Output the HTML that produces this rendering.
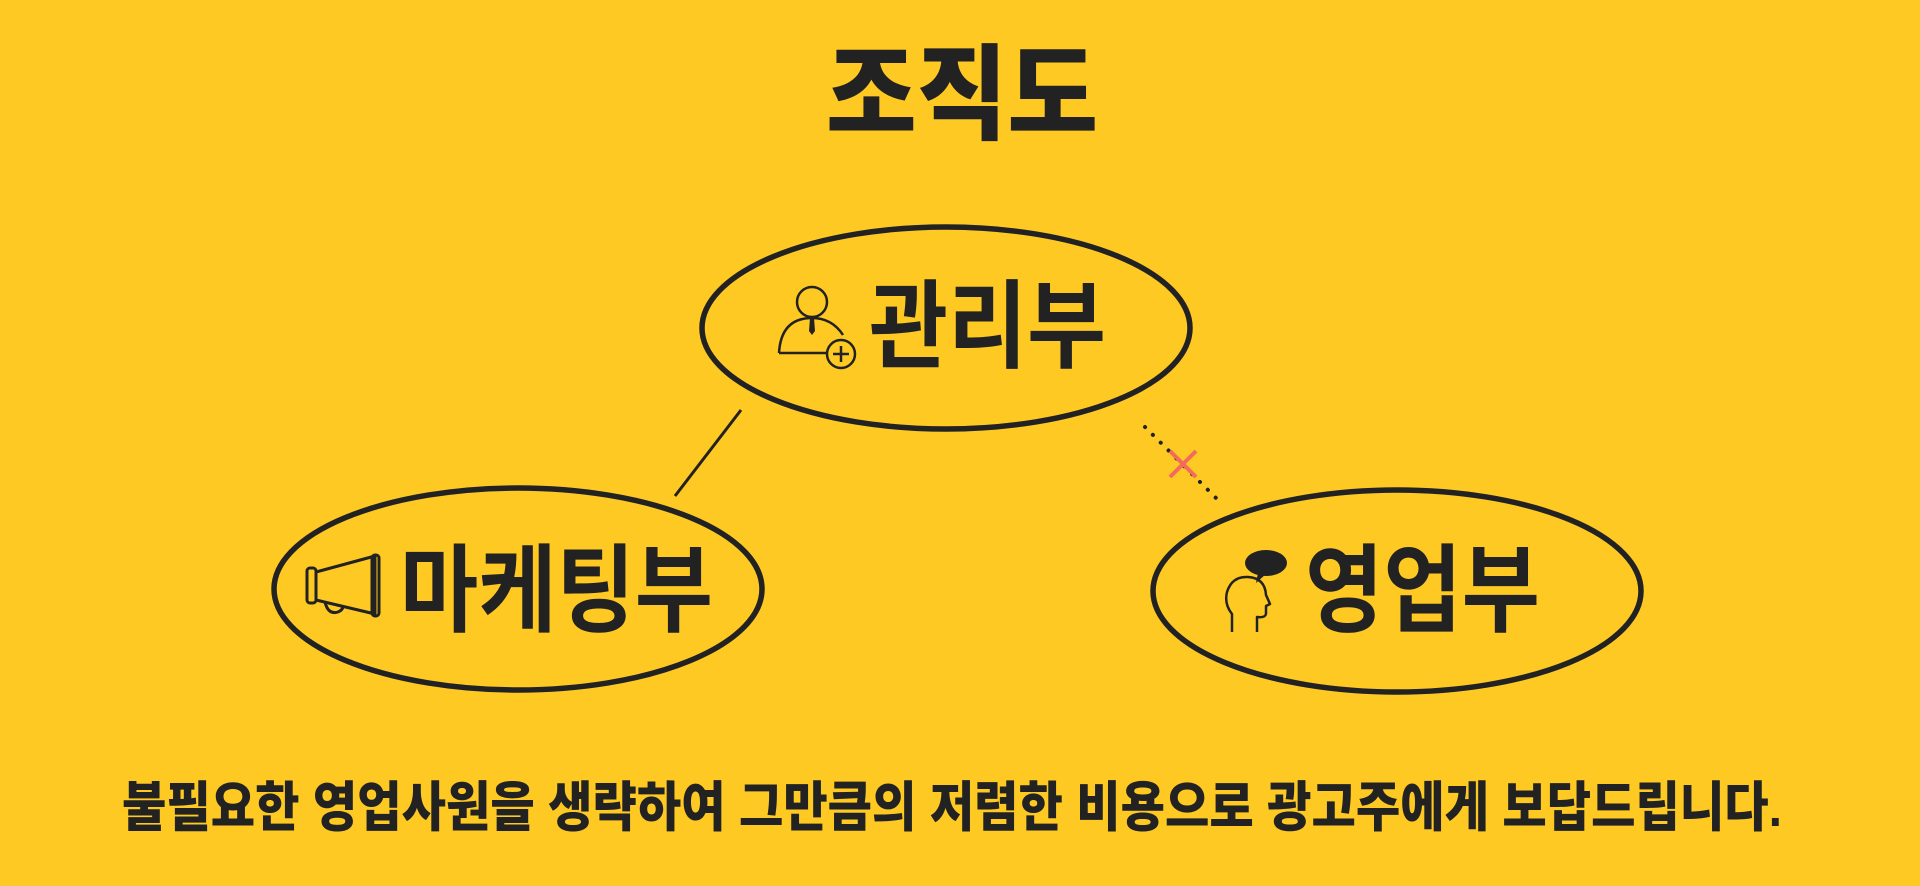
<!DOCTYPE html>
<html><head><meta charset="utf-8"><style>
html,body{margin:0;padding:0;background:#fec923;}
svg{display:block}
text{font-family:"Liberation Sans","Noto Sans CJK KR","NanumGothic",sans-serif;fill:#222;}
</style></head><body>
<svg width="1920" height="886" viewBox="0 0 1920 886" xmlns="http://www.w3.org/2000/svg">
<rect width="1920" height="886" fill="#fec923"/>
<text x="962" y="131" text-anchor="middle" font-size="104" font-weight="900" textLength="272" lengthAdjust="spacingAndGlyphs">조직도</text>

<g fill="none" stroke="#222" stroke-width="5.5">
<ellipse cx="946" cy="328" rx="244" ry="101"/>
<ellipse cx="518" cy="589" rx="244" ry="101"/>
<ellipse cx="1397" cy="591" rx="244" ry="101"/>
</g>
<line x1="741" y1="410" x2="675" y2="496" stroke="#222" stroke-width="3"/>
<line x1="1145" y1="427" x2="1221" y2="503" stroke="#222" stroke-width="4" stroke-dasharray="0.1 11" stroke-linecap="round"/>
<g stroke="#f26b5b" stroke-width="4"><line x1="1170" y1="451" x2="1196" y2="477"/><line x1="1196" y1="451" x2="1170" y2="477"/></g>

<text x="869" y="360" font-size="96" font-weight="700" textLength="237" lengthAdjust="spacingAndGlyphs">관리부</text>
<text x="400" y="624" font-size="96" font-weight="700" textLength="313" lengthAdjust="spacingAndGlyphs">마케팅부</text>
<text x="1305" y="624" font-size="96" font-weight="700" textLength="235" lengthAdjust="spacingAndGlyphs">영업부</text>

<!-- person icon -->
<g fill="none" stroke="#222" stroke-width="2.5">
<circle cx="812" cy="302" r="15"/>
<path d="M779 353 Q781 318 812 318 Q832 318 843 335"/>
<line x1="779" y1="353" x2="827" y2="353"/>
<circle cx="841" cy="354" r="14"/>
<line x1="841" y1="346" x2="841" y2="362"/><line x1="833" y1="354" x2="849" y2="354"/>
</g>
<path d="M810 318 L814 318 L815 331 L812 335 L809 331 Z" fill="#222"/>

<!-- megaphone -->
<g fill="none" stroke="#222" stroke-width="3" stroke-linejoin="round">
<rect x="307" y="568" width="9" height="35" rx="3"/>
<path d="M316 572 L375 556 L375 614 L316 600 Z"/>
<rect x="372" y="555" width="7" height="61" rx="3"/>
<path d="M325 602 Q328 615 338 612 Q343 610 343 606"/>
</g>

<!-- head icon -->
<g fill="none" stroke="#222" stroke-width="2.5" stroke-linejoin="round">
<path d="M1232 632 L1232 614 Q1224 604 1227 592 Q1232 576 1248 577 Q1265 578 1266 595 L1270 604 L1266 606 L1266 614 Q1265 618 1257 617 L1257 632"/>
</g>
<ellipse cx="1266" cy="563" rx="21" ry="13" fill="#222"/>
<path d="M1258 573 L1256 583 L1266 574 Z" fill="#222"/>

<text x="122" y="826" font-size="54" font-weight="900" textLength="1660" lengthAdjust="spacingAndGlyphs">불필요한 영업사원을 생략하여 그만큼의 저렴한 비용으로 광고주에게 보답드립니다.</text>
</svg>
</body></html>
